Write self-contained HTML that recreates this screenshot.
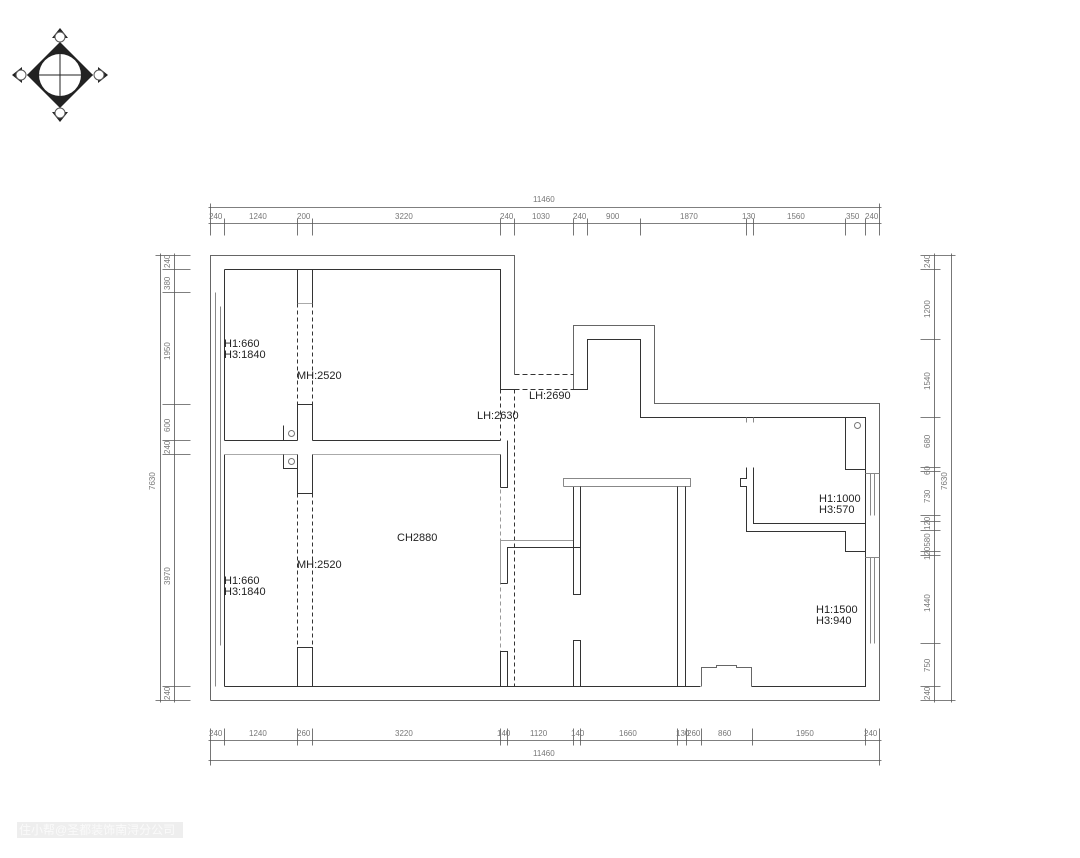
<!DOCTYPE html>
<html><head><meta charset="utf-8"><style>
html,body{margin:0;padding:0;background:#fff;}
svg{display:block;}
.d{font-family:"Liberation Sans",sans-serif;font-size:8px;fill:#777;}
.t{font-family:"Liberation Sans",sans-serif;font-size:11px;fill:#222;}
</style></head><body>
<svg width="1080" height="858" viewBox="0 0 1080 858" xmlns="http://www.w3.org/2000/svg">
<!-- compass -->
<g>
<polygon points="60,42 93,75 60,108 27,75" fill="#222"/>
<circle cx="60" cy="75" r="21" fill="#fff"/>
<line x1="27" y1="75" x2="93" y2="75" stroke="#222" stroke-width="1"/>
<line x1="60" y1="42" x2="60" y2="108" stroke="#222" stroke-width="1"/>
<polygon points="60,28 68,38 52,38" fill="#222"/><circle cx="60" cy="37" r="5" fill="#fff" stroke="#555"/>
<polygon points="60,122 68,112 52,112" fill="#222"/><circle cx="60" cy="113" r="5" fill="#fff" stroke="#555"/>
<polygon points="12,75 22,67 22,83" fill="#222"/><circle cx="21" cy="75" r="5" fill="#fff" stroke="#555"/>
<polygon points="108,75 98,67 98,83" fill="#222"/><circle cx="99" cy="75" r="5" fill="#fff" stroke="#555"/>
</g>
<g transform="translate(0.5,0.5)">
<g stroke="#333" stroke-width="1" fill="none">
<polyline points="210,700 210,255 514,255 514,374" stroke="#666"/>
<polyline points="573,389 573,325 654,325 654,403 879,403 879,700 210,700" stroke="#666"/>
<polyline points="224,269 500,269 500,389 514,389"/>
<polyline points="573,389 587,389 587,339 640,339 640,417 865,417 865,686 751,686"/>
<polyline points="700,686 224,686"/>
<polyline points="751,686 751,667 736,667 736,665 716,665 716,667 701,667 701,686" stroke="#666"/>
<line x1="215" y1="292" x2="215" y2="686" stroke="#888"/>
<line x1="220" y1="306" x2="220" y2="645" stroke="#888"/>
<line x1="224" y1="269" x2="224" y2="440"/>
<line x1="224" y1="454" x2="224" y2="686"/>
<line x1="224" y1="440" x2="297" y2="440"/>
<line x1="312" y1="440" x2="500" y2="440"/>
<line x1="224" y1="454" x2="297" y2="454" stroke="#aaa"/>
<line x1="312" y1="454" x2="500" y2="454" stroke="#aaa"/>
<polyline points="297,269 297,303"/><polyline points="312,269 312,303"/>
<line x1="297" y1="303" x2="312" y2="303" stroke="#aaa"/>
<line x1="297" y1="303" x2="297" y2="404" stroke-dasharray="4,3"/>
<line x1="312" y1="303" x2="312" y2="404" stroke-dasharray="4,3"/>
<polyline points="297,440 297,404 312,404 312,440"/>
<polyline points="297,454 297,493 312,493 312,454"/>
<line x1="297" y1="493" x2="297" y2="647" stroke-dasharray="4,3"/>
<line x1="312" y1="493" x2="312" y2="647" stroke-dasharray="4,3"/>
<polyline points="297,686 297,647 312,647 312,686"/>
<polyline points="283,425 283,440 297,440"/><circle cx="291" cy="433" r="3" stroke="#777"/>
<polyline points="283,454 283,468 297,468"/><circle cx="291" cy="461" r="3" stroke="#777"/>
<line x1="500" y1="389" x2="500" y2="440" stroke-dasharray="4,3"/>
<line x1="514" y1="389" x2="514" y2="686" stroke-dasharray="4,3"/>
<line x1="500" y1="454" x2="500" y2="686" stroke-dasharray="4,3" stroke="#999"/>
<polyline points="507,440 507,487 500,487" />
<line x1="500" y1="454" x2="500" y2="487"/>
<line x1="514" y1="374" x2="573" y2="374" stroke-dasharray="5,3"/>
<line x1="514" y1="389" x2="573" y2="389" stroke-dasharray="5,3"/>
<polyline points="500,583 500,540 573,540" stroke="#999"/>
<polyline points="507,583 507,547 580,547 580,594 573,594 573,486"/>
<line x1="500" y1="583" x2="507" y2="583"/>
<polyline points="500,686 500,651 507,651 507,686"/>
<polyline points="573,686 573,640 580,640 580,686"/>
<polyline points="563,486 563,478 690,478 690,486 563,486" stroke="#888"/>
<line x1="580" y1="486" x2="580" y2="547"/>
<line x1="677" y1="486" x2="677" y2="686"/>
<line x1="685" y1="486" x2="685" y2="686"/>
<polyline points="753,467 753,523 865,523"/>
<polyline points="746,467 746,478 740,478 740,486 746,486 746,531 845,531 845,551 865,551"/>
<line x1="746" y1="417" x2="746" y2="422" stroke="#888"/><line x1="753" y1="417" x2="753" y2="422" stroke="#888"/>
<polyline points="845,417 845,469 865,469"/><circle cx="857" cy="425" r="3" stroke="#777"/>
<line x1="865" y1="473" x2="879" y2="473" stroke="#888"/>
<line x1="870" y1="473" x2="870" y2="515" stroke="#888"/><line x1="874" y1="473" x2="874" y2="515" stroke="#888"/>
<line x1="865" y1="557" x2="879" y2="557" stroke="#888"/>
<line x1="870" y1="557" x2="870" y2="643" stroke="#888"/><line x1="874" y1="557" x2="874" y2="643" stroke="#888"/>
</g>
<g stroke="#555" stroke-width="0.8" fill="none">
<line x1="208" y1="207" x2="881" y2="207"/>
<line x1="208" y1="223" x2="881" y2="223"/>
<line x1="208" y1="740" x2="881" y2="740"/>
<line x1="208" y1="760" x2="881" y2="760"/>
<line x1="174" y1="253" x2="174" y2="702"/>
<line x1="160" y1="253" x2="160" y2="702"/>
<line x1="934" y1="253" x2="934" y2="702"/>
<line x1="951" y1="253" x2="951" y2="702"/>
<path d="M210,203V235M224,218V235M297,218V235M312,218V235M500,218V235M514,218V235M573,218V235M587,218V235M640,218V235M746,218V235M753,218V235M845,218V235M865,218V235M879,203V235"/>
<path d="M210,728V765M224,728V745M297,728V745M312,728V745M500,728V745M507,728V745M573,728V745M580,728V745M677,728V745M686,728V745M701,728V745M752,728V745M865,728V745M879,728V765"/>
<path d="M155,255H190M162,269H190M162,292H190M162,404H190M162,440H190M162,454H190M162,686H190M155,700H190"/>
<path d="M920,255H955M920,269H940M920,339H940M920,417H940M920,467H940M920,471H940M920,515H940M920,521H940M920,530H940M920,551H940M920,555H940M920,643H940M920,686H940M920,700H955"/>
</g>
</g>
<g class="d">
<text x="533" y="202">11460</text>
<text x="209" y="219">240</text><text x="249" y="219">1240</text><text x="297" y="219">200</text><text x="395" y="219">3220</text>
<text x="500" y="219">240</text><text x="532" y="219">1030</text><text x="573" y="219">240</text><text x="606" y="219">900</text>
<text x="680" y="219">1870</text><text x="742" y="219">130</text><text x="787" y="219">1560</text><text x="846" y="219">350</text><text x="865" y="219">240</text>
<text x="209" y="736">240</text><text x="249" y="736">1240</text><text x="297" y="736">260</text><text x="395" y="736">3220</text>
<text x="497" y="736">140</text><text x="530" y="736">1120</text><text x="571" y="736">140</text><text x="619" y="736">1660</text>
<text x="676" y="736">130</text><text x="687" y="736">260</text><text x="718" y="736">860</text><text x="796" y="736">1950</text><text x="864" y="736">240</text>
<text x="533" y="756">11460</text>
</g>
<g class="d">
<text transform="translate(170,268) rotate(-90)">240</text>
<text transform="translate(170,290) rotate(-90)">380</text>
<text transform="translate(170,360) rotate(-90)">1950</text>
<text transform="translate(170,432) rotate(-90)">600</text>
<text transform="translate(170,454) rotate(-90)">240</text>
<text transform="translate(170,585) rotate(-90)">3970</text>
<text transform="translate(170,700) rotate(-90)">240</text>
<text transform="translate(155,490) rotate(-90)">7630</text>
<text transform="translate(930,268) rotate(-90)">240</text>
<text transform="translate(930,318) rotate(-90)">1200</text>
<text transform="translate(930,390) rotate(-90)">1540</text>
<text transform="translate(930,448) rotate(-90)">680</text>
<text transform="translate(930,475) rotate(-90)">60</text>
<text transform="translate(930,503) rotate(-90)">730</text>
<text transform="translate(930,530) rotate(-90)">120</text>
<text transform="translate(930,560) rotate(-90)">120580</text>
<text transform="translate(930,612) rotate(-90)">1440</text>
<text transform="translate(930,672) rotate(-90)">750</text>
<text transform="translate(930,700) rotate(-90)">240</text>
<text transform="translate(947,490) rotate(-90)">7630</text>
</g>
<g class="t">
<text x="224" y="347">H1:660</text><text x="224" y="358">H3:1840</text>
<text x="297" y="379">MH:2520</text>
<text x="477" y="419">LH:2630</text>
<text x="529" y="399">LH:2690</text>
<text x="397" y="541">CH2880</text>
<text x="297" y="568">MH:2520</text>
<text x="224" y="584">H1:660</text><text x="224" y="595">H3:1840</text>
<text x="819" y="502">H1:1000</text><text x="819" y="513">H3:570</text>
<text x="816" y="613">H1:1500</text><text x="816" y="624">H3:940</text>
</g>
<rect x="17" y="822" width="166" height="16" fill="#eeeeee"/>
<text x="19" y="834" style="font-family:'Liberation Sans','Noto Sans CJK SC',sans-serif;font-size:12px;fill:#fafafa;">住小帮@圣都装饰南浔分公司</text>
</svg>
</body></html>
